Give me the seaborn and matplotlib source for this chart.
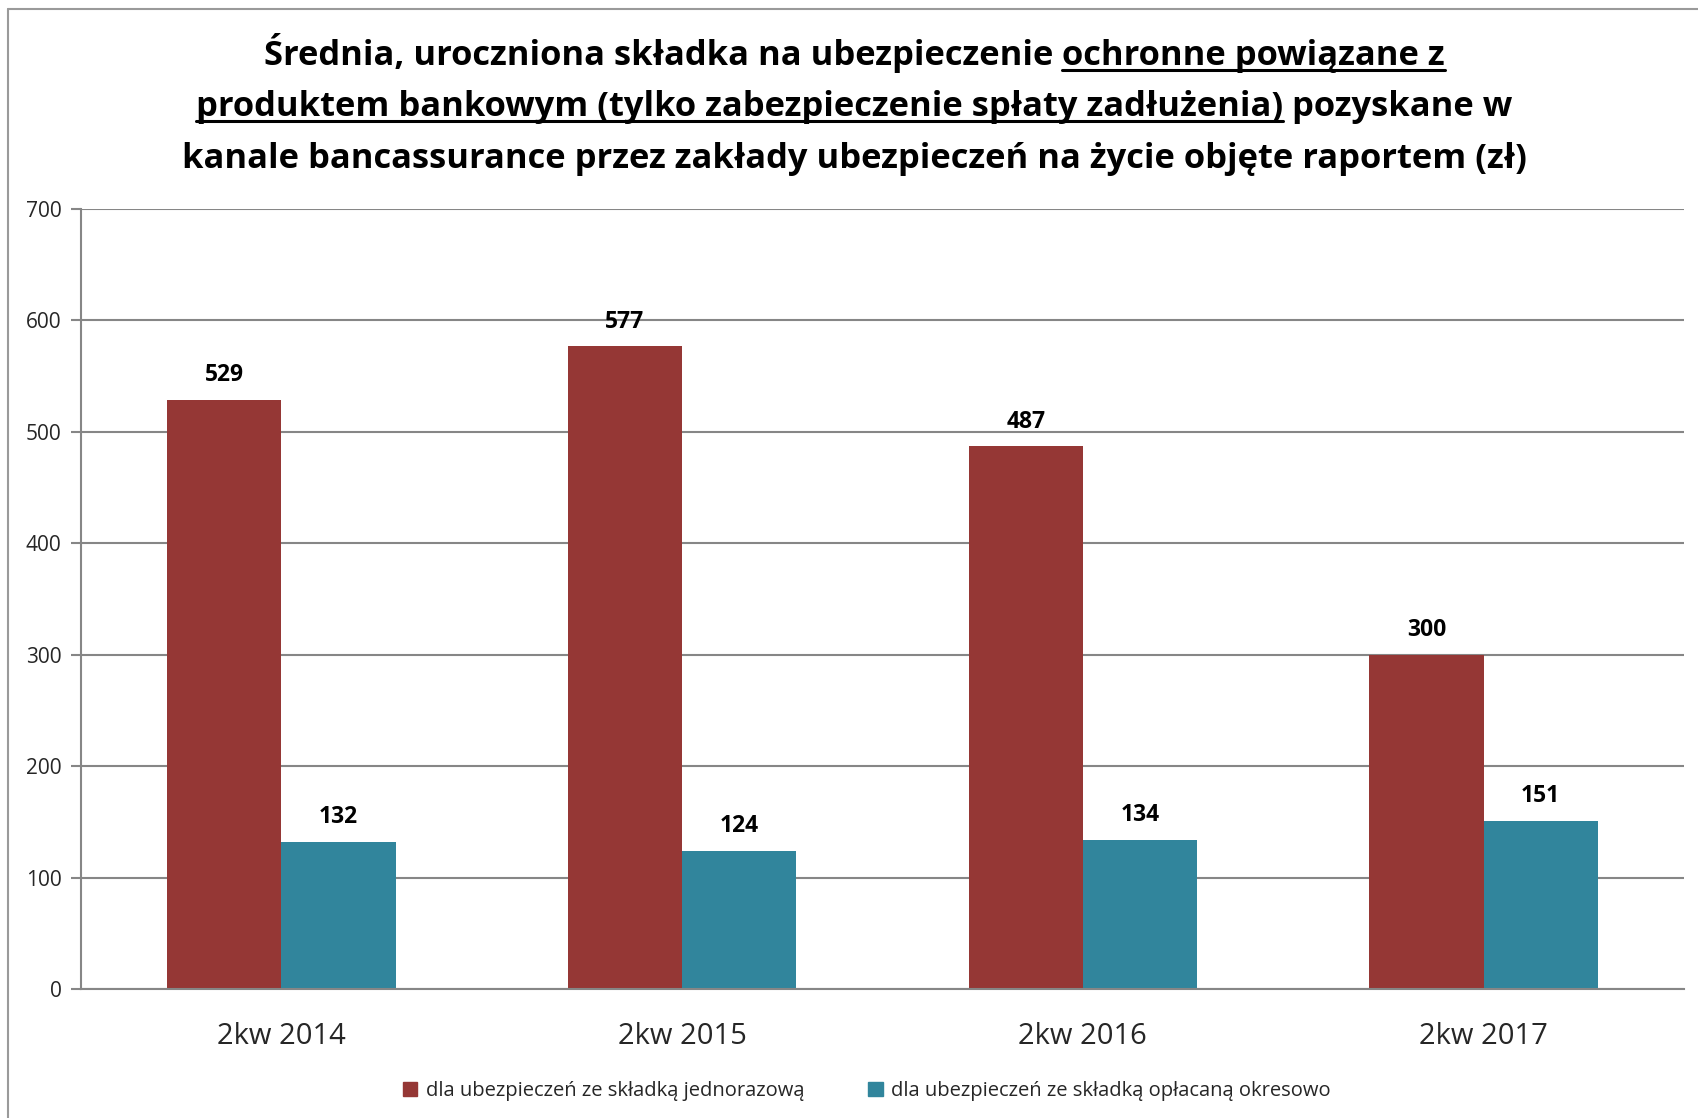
import numpy as np
import pandas as pd
import matplotlib
matplotlib.use("Agg")
import matplotlib.pyplot as plt
from matplotlib import font_manager
from matplotlib.lines import Line2D
from matplotlib.patches import Patch
import seaborn as sns

# data
quarters = ["2kw 2014", "2kw 2015", "2kw 2016", "2kw 2017"]
series_names = ["dla ubezpieczeń ze składką jednorazową",
                "dla ubezpieczeń ze składką opłacaną okresowo"]
single_premium = [529, 577, 487, 300]
regular_premium = [132, 124, 134, 151]
colors = ["#953735", "#31859C"]

df = pd.DataFrame({
    "kwartal": quarters * 2,
    "seria": [series_names[0]] * 4 + [series_names[1]] * 4,
    "wartosc": single_premium + regular_premium,
})

sns.set_style("white")

# pick a sans font resembling Calibri
font = "DejaVu Sans"
for cand in ["Open Sans", "Lato"]:
    try:
        font_manager.findfont(cand, fallback_to_default=False)
        font = cand
        break
    except ValueError:
        pass
plt.rcParams["font.family"] = [font, "DejaVu Sans"]

fig = plt.figure(figsize=(16.98, 11.18), dpi=100)
ax = fig.add_axes([81 / 1698, 1 - 989 / 1118, (1684 - 81) / 1698, (989 - 209) / 1118])

sns.barplot(data=df, x="kwartal", y="wartosc", hue="seria", palette=colors,
            width=0.57, gap=0, saturation=1, linewidth=0, ax=ax, legend=False)

for cont in ax.containers:
    ax.bar_label(cont, fmt="%d", padding=9, fontsize=16.5, fontweight="bold",
                 color="black")

ax.set_ylim(0, 700)
ax.set_xlim(-0.5, 3.5)
ax.set_yticks(range(0, 701, 100))
ax.yaxis.grid(True, color="#868686", linewidth=1.5)
ax.set_axisbelow(True)
ax.set_xlabel("")
ax.set_ylabel("")
for s in ["top", "right"]:
    ax.spines[s].set_visible(False)
for s in ["left", "bottom"]:
    ax.spines[s].set_color("#868686")
    ax.spines[s].set_linewidth(1.5)

ax.set_xticks(np.arange(len(quarters)))
ax.set_xticklabels(quarters, fontsize=21)
ax.tick_params(axis="x", length=0, pad=24)
ax.set_xticks(np.arange(-0.5, len(quarters)), minor=True)
ax.tick_params(axis="x", which="minor", length=10, width=1.5, color="#868686",
               direction="out")
ax.tick_params(axis="y", labelsize=15, length=7, width=1.5,
               color="#868686", pad=7, left=True)

handles = [Patch(color=c) for c in colors]
fig.legend(handles, series_names, loc="center", bbox_to_anchor=(0.5105, 1 - 1091 / 1118),
           ncol=2, frameon=False, fontsize=14.5, handlelength=0.7,
           handleheight=0.7, handletextpad=0.4, columnspacing=3.2)

# chart border (left and top only visible)
fig.add_artist(Line2D([8 / 1698, 8 / 1698], [0, 1 - 9 / 1118], color="#9a9a9a",
                      linewidth=1.5, transform=fig.transFigure))
fig.add_artist(Line2D([8 / 1698, 1], [1 - 9 / 1118, 1 - 9 / 1118], color="#9a9a9a",
                      linewidth=1.5, transform=fig.transFigure))

# title with underlined part
title_lines = [
    [("Średnia, uroczniona składka na ubezpieczenie ", False), ("ochronne powiązane z", True)],
    [("produktem bankowym (tylko zabezpieczenie spłaty zadłużenia)", True), (" pozyskane w", False)],
    [("kanale bancassurance przez zakłady ubezpieczeń na życie objęte raportem (zł)", False)],
]
title_y = [65, 116, 168]
title_size = 24.8
renderer = fig.canvas.get_renderer()
W, H = fig.bbox.width, fig.bbox.height
for parts, ypx in zip(title_lines, title_y):
    texts = []
    widths = []
    for txt, und in parts:
        t = fig.text(0, 1 - ypx / 1118, txt, fontsize=title_size, fontweight="bold",
                     ha="left", va="baseline", color="black")
        bb = t.get_window_extent(renderer)
        texts.append(t)
        widths.append(bb.width)
    total = sum(widths)
    x0 = (W * 0.503 - total / 2)
    for (txt, und), t, w in zip(parts, texts, widths):
        t.set_x(x0 / W)
        if und:
            uy = 1 - (ypx + 5) / 1118
            fig.add_artist(Line2D([x0 / W, (x0 + w) / W], [uy, uy], color="black",
                                  linewidth=2.2, transform=fig.transFigure))
        x0 += w

fig.savefig("out.png", dpi=100)
